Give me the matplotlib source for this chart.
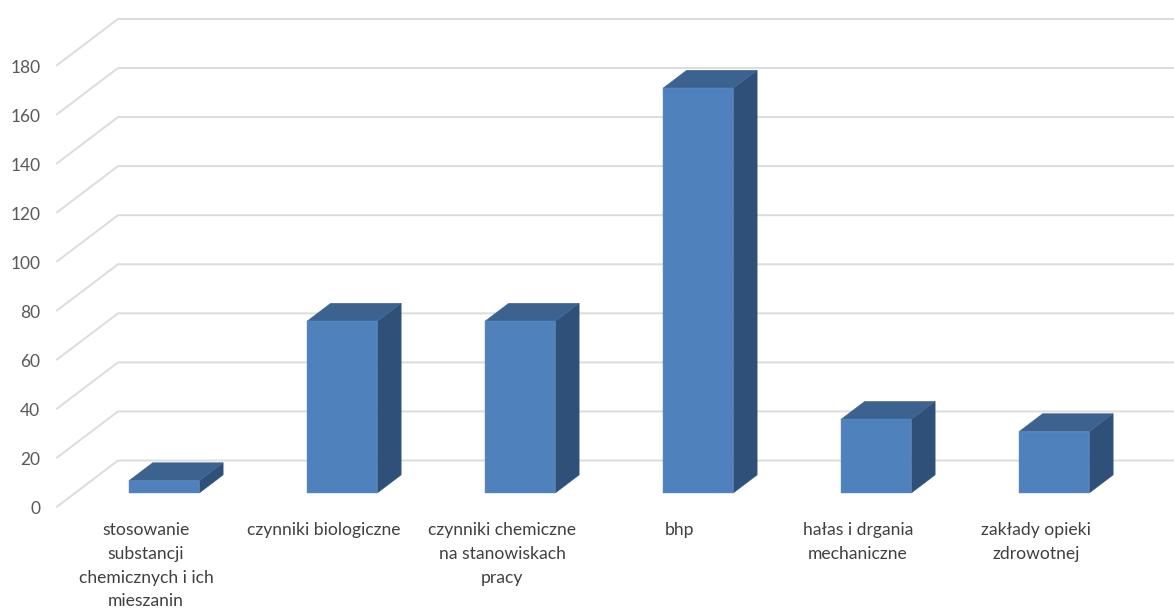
# 3D-look column chart, drawn on a plain 2D axes with a sheared depth offset
import matplotlib
matplotlib.use("Agg")
import matplotlib.pyplot as plt
from matplotlib.transforms import ScaledTranslation

plt.rcParams['font.family'] = ['Lato', 'DejaVu Sans']

# ------------------------------------------------------------------------------------- #
# data
categories = ['stosowanie\nsubstancji\nchemicznych i ich\nmieszanin',
              'czynniki biologiczne',
              'czynniki chemiczne\nna stanowiskach\npracy',
              'bhp',
              'hałas i drgania\nmechaniczne',
              'zakłady opieki\nzdrowotnej']
values = [5, 70, 70, 165, 30, 25]
y_ticks = [0, 20, 40, 60, 80, 100, 120, 140, 160, 180]

# ------------------------------------------------------------------------------------- #
# geometry
fig_w, fig_h = 1174, 610
left_px, right_px = 57, 1125
bottom_px, top_px = 506.7, 16.1
depth_x = 61 / 178    # full floor depth, in category units
depth_y = 46.2 / 2.453  # full floor depth, in value units
bar_width = 70.5 / 178
bar_front, bar_back = 0.297, 0.687  # bar position along the floor depth

grid_color = '#DCDCDC'
front_color = '#4F81BD'
top_color = '#3C628F'
side_color = '#2F5179'


def project(x, v, t):
    """Shift a point (category, value) back along the floor depth t (0-1)."""
    return x + t * depth_x, v + t * depth_y


if __name__ == '__main__':
    fig = plt.figure(figsize=(fig_w / 100, fig_h / 100), dpi=100)
    ax = fig.add_axes([left_px / fig_w, 1 - bottom_px / fig_h,
                       (right_px - left_px) / fig_w, (bottom_px - top_px) / fig_h])
    ax.set_xlim(-0.5, 5.5)
    ax.set_ylim(0, 200)

    # side wall and back wall gridlines
    for tick in y_ticks:
        x0, y0 = project(-0.5, tick, 0)
        x1, y1 = project(-0.5, tick, 1)
        x2, y2 = project(5.5, tick, 1)
        ax.plot([x0, x1, x2], [y0, y1, y2], color=grid_color, linewidth=1.4,
                solid_joinstyle='miter', clip_on=False, zorder=1)

    # columns
    for i, value in enumerate(values):
        x_l = i - bar_width / 2
        x_r = i + bar_width / 2
        fl, vb = project(x_l, 0, bar_front)
        fr, _ = project(x_r, 0, bar_front)
        bl, vbb = project(x_l, 0, bar_back)
        br, _ = project(x_r, 0, bar_back)
        vt = vb + value
        vbt = vbb + value
        # side and top faces first, then the front on top
        ax.fill([fr, br, br, fr], [vb, vbb, vbt, vt], color=side_color,
                linewidth=0.3, clip_on=False, zorder=2)
        ax.fill([fl, bl, br, fr], [vt, vbt, vbt, vt], color=top_color,
                linewidth=0.3, clip_on=False, zorder=3)
        ax.bar(fl + (fr - fl) / 2, value, width=fr - fl, bottom=vb, color=front_color,
               edgecolor='#5F90C8', linewidth=0.3, clip_on=False, zorder=4)

    # axes text
    ax.set_xticks(range(len(categories)))
    ax.set_xticklabels(categories, fontsize=12.6, color='#404040', linespacing=1.6)
    ax.set_yticks(y_ticks)
    ax.set_yticklabels([str(t) for t in y_ticks], fontsize=12.5, color='#595959')
    ax.tick_params(axis='x', length=0, pad=11)
    ax.tick_params(axis='y', length=0, pad=12)
    # value labels sit a little below their gridline ends
    for label in ax.get_yticklabels():
        label.set_transform(label.get_transform() + ScaledTranslation(0, -0.7 / 72, fig.dpi_scale_trans))
    for spine in ax.spines.values():
        spine.set_visible(False)

    plt.savefig('out.png', dpi=100)
    plt.close()
